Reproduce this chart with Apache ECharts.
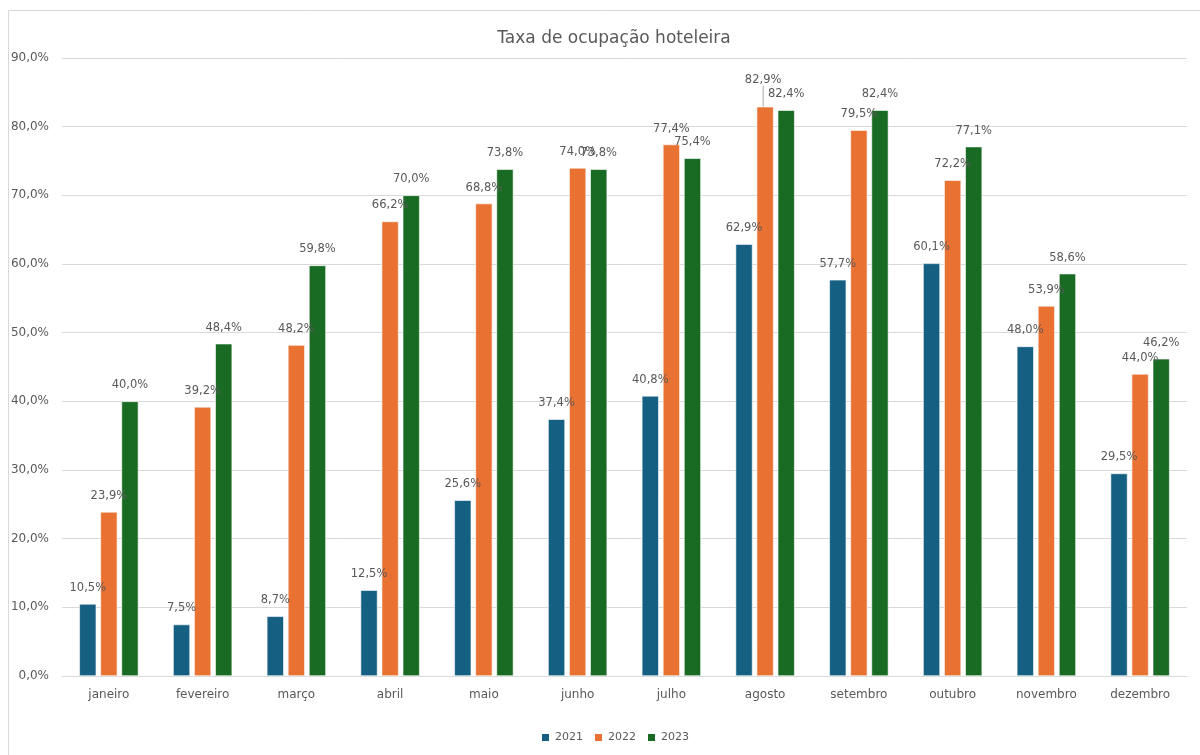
<!DOCTYPE html>
<html>
<head>
<meta charset="utf-8">
<script src="https://cdn.jsdelivr.net/npm/echarts@6/dist/echarts.min.js"></script>
<style>
  html, body { margin: 0; padding: 0; background: #fff; }
  #chart { width: 1200px; height: 755px; }
</style>
</head>
<body>
<div id="chart"></div>
<script>
// Monthly hotel occupancy rate (%) by year
const months = ['janeiro', 'fevereiro', 'março', 'abril', 'maio', 'junho',
  'julho', 'agosto', 'setembro', 'outubro', 'novembro', 'dezembro'];
const years = ['2021', '2022', '2023'];
const occ2021 = [10.5, 7.5, 8.7, 12.5, 25.6, 37.4, 40.8, 62.9, 57.7, 60.1, 48.0, 29.5];
const occ2022 = [23.9, 39.2, 48.2, 66.2, 68.8, 74.0, 77.4, 82.9, 79.5, 72.2, 53.9, 44.0];
const occ2023 = [40.0, 48.4, 59.8, 70.0, 73.8, 73.8, 75.4, 82.4, 82.4, 77.1, 58.6, 46.2];

const colors = ['#156082', '#E97132', '#196B24'];
const textColor = '#595959';
const fontFamily = '"DejaVu Sans", Verdana, sans-serif';

const pct = v => v.toFixed(1).replace('.', ',') + '%';

function barSeries(name, values, idx, liftIndex) {
  return {
    name: name,
    type: 'bar',
    // the lifted label gets a leader line back to its bar
    data: values.map((v, i) => i === liftIndex
      ? { value: v, labelLine: { show: true } }
      : v),
    barWidth: 17,
    barGap: '24%',
    itemStyle: { color: colors[idx], borderColor: '#fff', borderWidth: 0.6 },
    label: {
      show: true,
      position: 'top',
      distance: 10,
      color: textColor,
      fontSize: 11.5,
      fontFamily: fontFamily,
      formatter: p => pct(p.value)
    },
    labelLine: { show: false, lineStyle: { color: '#a6a6a6', width: 1 } },
    labelLayout: function (p) {
      if (p.dataIndex === liftIndex) return { dx: -2, dy: -11 };
      return {};
    }
  };
}

const chart = echarts.init(document.getElementById('chart'), null, { renderer: 'canvas' });
chart.setOption({
  backgroundColor: '#fff',
  animation: false,
  title: {
    text: 'Taxa de ocupação hoteleira',
    left: 609,
    textAlign: 'center',
    top: 25,
    textStyle: { color: textColor, fontSize: 17, fontWeight: 'normal', fontFamily: fontFamily }
  },
  legend: {
    data: years,
    bottom: 7,
    left: 535,
    itemWidth: 9,
    itemHeight: 9,
    itemGap: 10,
    icon: 'rect',
    textStyle: { color: textColor, fontSize: 11, fontFamily: fontFamily }
  },
  grid: { left: 62, right: 13, top: 58, bottom: 79, containLabel: false },
  xAxis: {
    type: 'category',
    data: months,
    axisLine: { lineStyle: { color: '#d9d9d9' } },
    axisTick: { show: false },
    axisLabel: { color: textColor, fontSize: 12, fontFamily: fontFamily, margin: 13 }
  },
  yAxis: {
    type: 'value',
    min: 0,
    max: 90,
    interval: 10,
    axisLine: { show: false },
    axisTick: { show: false },
    splitLine: { lineStyle: { color: '#d9d9d9' } },
    axisLabel: { color: textColor, fontSize: 12, fontFamily: fontFamily, margin: 13, formatter: v => pct(v) }
  },
  graphic: [{
    type: 'rect',
    shape: { x: 8.5, y: 10.5, width: 1200, height: 760 },
    style: { fill: 'none', stroke: '#d9d9d9', lineWidth: 1 },
    silent: true
  }],
  series: [
    barSeries(years[0], occ2021, 0, -1),
    barSeries(years[1], occ2022, 1, 7),
    barSeries(years[2], occ2023, 2, -1)
  ]
});
</script>
</body>
</html>
